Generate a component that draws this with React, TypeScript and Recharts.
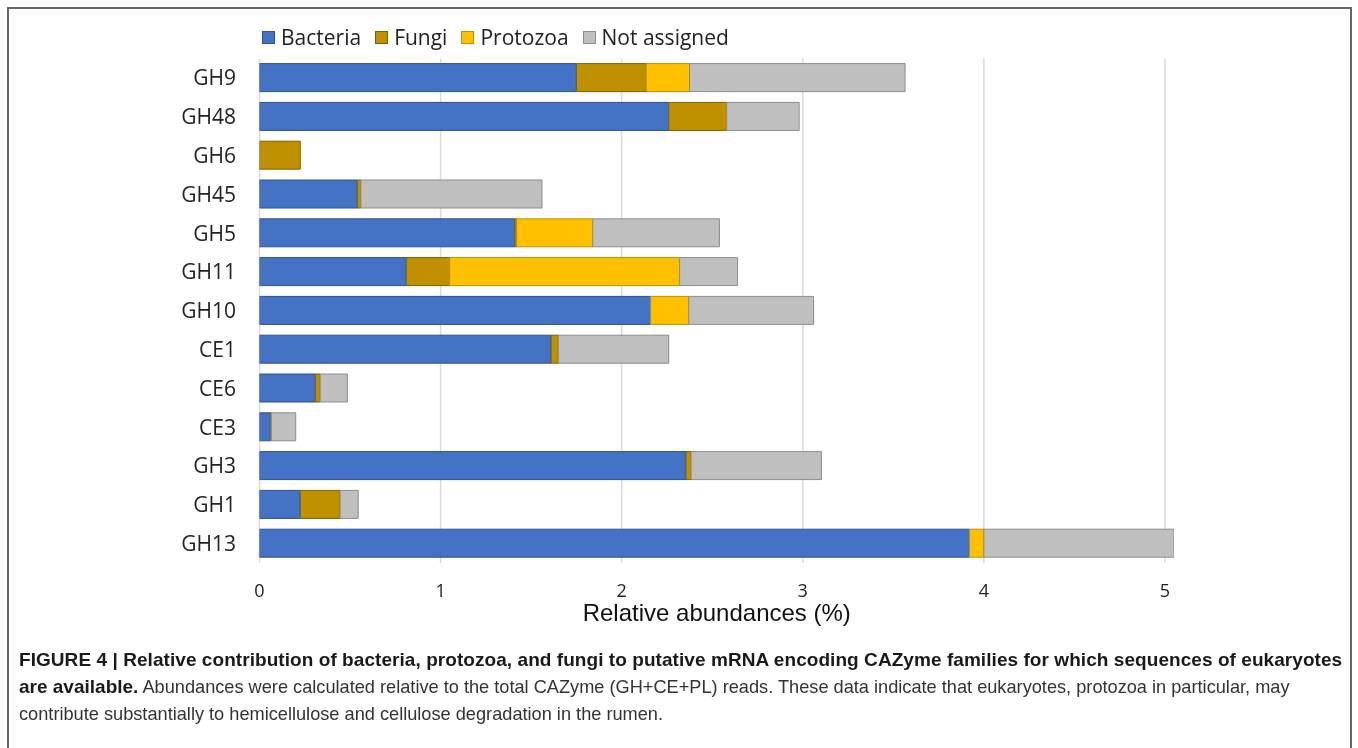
import React from 'react';
import { BarChart, Bar, XAxis, YAxis, CartesianGrid, Legend, Label } from 'recharts';

const categories = ['GH9', 'GH48', 'GH6', 'GH45', 'GH5', 'GH11', 'GH10', 'CE1', 'CE6', 'CE3', 'GH3', 'GH1', 'GH13'];
const bacteria = [1.75, 2.26, 0, 0.54, 1.41, 0.81, 2.16, 1.61, 0.31, 0.06, 2.355, 0.225, 3.92];
const fungi = [0.385, 0.32, 0.225, 0.02, 0.01, 0.24, 0, 0.04, 0.025, 0.005, 0.028, 0.22, 0];
const protozoa = [0.24, 0, 0, 0, 0.42, 1.27, 0.21, 0, 0, 0, 0, 0, 0.08];
const notAssigned = [1.19, 0.4, 0, 1.0, 0.7, 0.32, 0.69, 0.61, 0.15, 0.135, 0.72, 0.1, 1.05];
const xTicks = [0, 1, 2, 3, 4, 5];

const seriesInfo = [
  { key: 'Bacteria', fill: '#4472C4', stroke: '#2F528F' },
  { key: 'Fungi', fill: '#BF9000', stroke: '#7F6000' },
  { key: 'Protozoa', fill: '#FFC000', stroke: '#BF9000' },
  { key: 'Not assigned', fill: '#BFBFBF', stroke: '#8C8C8C' },
];

const data = categories.map((name, i) => ({
  name,
  Bacteria: bacteria[i],
  Fungi: fungi[i],
  Protozoa: protozoa[i],
  'Not assigned': notAssigned[i],
}));

const labelFont = '"Open Sans", sans-serif';
const captionFont = '"Liberation Sans", Arial, sans-serif';

const LegendContent = () => (
  <div style={{ display: 'flex', alignItems: 'center', fontFamily: labelFont, fontSize: 21, color: '#222', lineHeight: '28px', whiteSpace: 'nowrap' }}>
    {seriesInfo.map((s) => (
      <div key={s.key} style={{ display: 'flex', alignItems: 'center', marginRight: 14 }}>
        <span style={{ display: 'inline-block', width: 11, height: 11, background: s.fill, border: `1px solid ${s.stroke}`, marginRight: 6 }} />
        <span>{s.key}</span>
      </div>
    ))}
  </div>
);

const GridLine = (p: any) => {
  const right = (p.x ?? 0) + (p.width ?? 0);
  if (p.width && Math.abs(p.x1 - right) < 1.5) return <g key={p.key} />;
  return <line key={p.key} x1={p.x1} y1={p.y1} x2={p.x2} y2={p.y2} stroke="#D9D9D9" strokeWidth={1.5} />;
};

export default function App() {
  return (
    <div style={{ position: 'relative', width: 1342, height: 732 }}>
      <div style={{ position: 'fixed', left: 7, top: 7, width: 1341, height: 760, borderTop: '2px solid #666', borderLeft: '2px solid #666', borderRight: '2px solid #666', pointerEvents: 'none' }} />
      <div style={{ position: 'absolute', left: 0, top: 0 }}>
        <BarChart
          width={1200}
          height={630}
          data={data}
          layout="vertical"
          margin={{ top: 50.6, right: 34, bottom: 15, left: 0 }}
          barSize={28}
        >
          <CartesianGrid horizontal={false} vertical={GridLine} />
          <XAxis
            type="number"
            domain={[0, 5.05]}
            ticks={xTicks}
            tickLine={false}
            axisLine={false}
            tickSize={0}
            tickMargin={21}
            height={60}
            tick={{ fontSize: 18, fill: '#222', fontFamily: labelFont }}
            allowDataOverflow
          >
            <Label
              value="Relative abundances (%)"
              position="insideBottom"
              offset={2}
              style={{ fontSize: 24, fill: '#111', fontFamily: captionFont }}
            />
          </XAxis>
          <YAxis
            type="category"
            dataKey="name"
            width={251.5}
            tickLine={false}
            axisLine={false}
            tickSize={0}
            tickMargin={23.5}
            interval={0}
            tick={{ fontSize: 21, fill: '#222', fontFamily: labelFont }}
          />
          <Legend
            layout="horizontal"
            verticalAlign="middle"
            align="center"
            wrapperStyle={{ top: 15, left: 254, width: 700, height: 28 }}
            content={<LegendContent />}
          />
          {seriesInfo.map((s) => (
            <Bar key={s.key} dataKey={s.key} stackId="a" fill={s.fill} stroke={s.stroke} strokeWidth={1} isAnimationActive={false} />
          ))}
        </BarChart>
      </div>
      <div style={{ position: 'absolute', left: 11, top: 637.5, fontFamily: captionFont, fontSize: 18.2, lineHeight: '27px', color: '#333', whiteSpace: 'nowrap' }}>
        <div style={{ fontWeight: 'bold', color: '#1a1a1a', fontSize: 19, letterSpacing: 0.06 }}>
          FIGURE 4 | Relative contribution of bacteria, protozoa, and fungi to putative mRNA encoding CAZyme families for which sequences of eukaryotes
        </div>
        <div>
          <span style={{ fontWeight: 'bold', color: '#1a1a1a', fontSize: 19 }}>are available.</span> Abundances were calculated relative to the total CAZyme (GH+CE+PL) reads. These data indicate that eukaryotes, protozoa in particular, may
        </div>
        <div>contribute substantially to hemicellulose and cellulose degradation in the rumen.</div>
      </div>
    </div>
  );
}
